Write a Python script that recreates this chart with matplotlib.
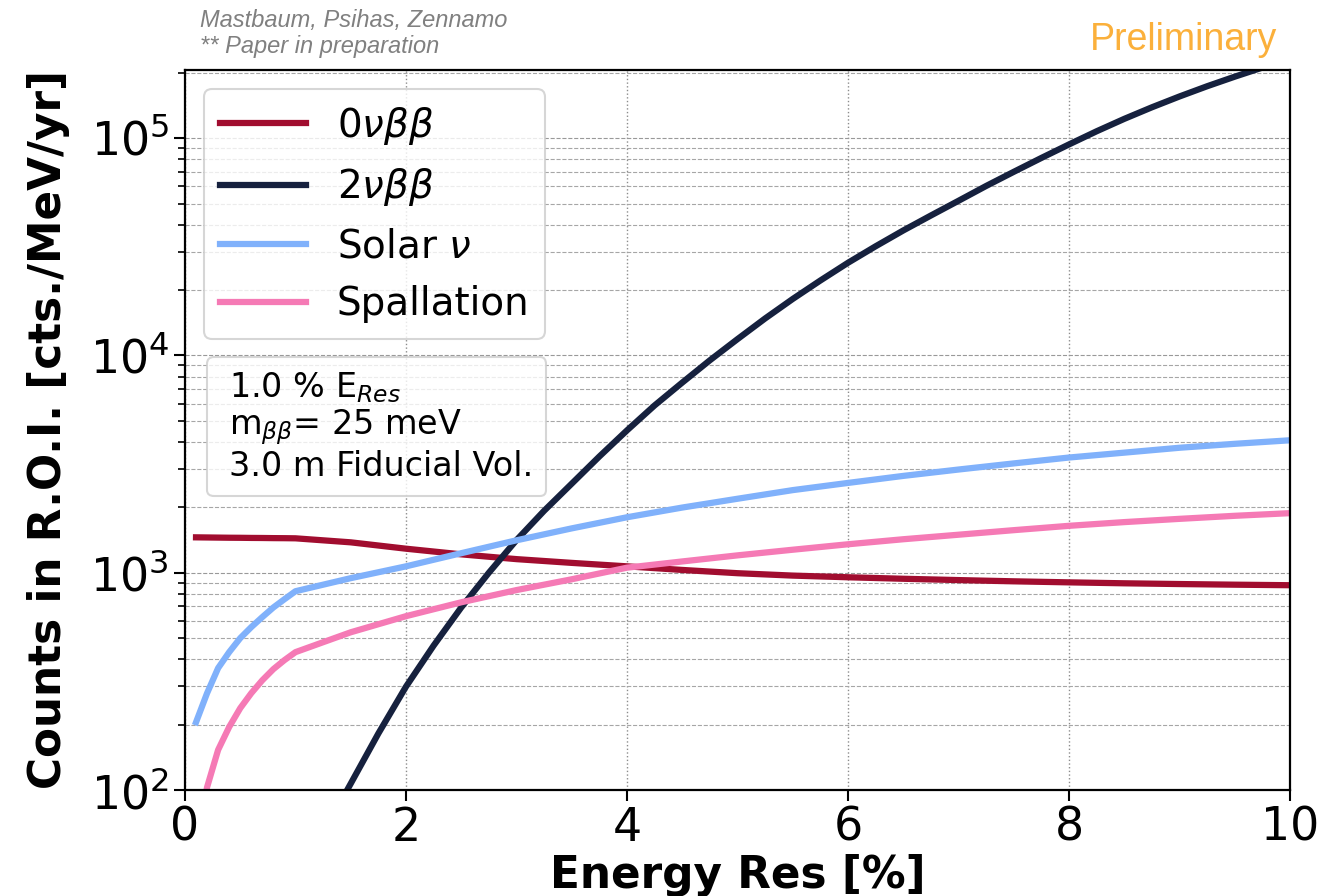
import matplotlib
matplotlib.use("Agg")
from matplotlib import pyplot as plt
from matplotlib.lines import Line2D

# energy resolution [%] sample points
E_RES = [0.1, 0.2, 0.3, 0.4, 0.5, 0.6, 0.7, 0.8, 0.9, 1.0,
         1.5, 2.0, 2.5, 3.0, 3.5, 4.0, 4.5, 5.0, 5.5, 6.0,
         6.5, 7.0, 7.5, 8.0, 8.5, 9.0, 9.5, 10.0]

# counts in ROI [cts/MeV/yr]
ZERO_NU = [1455, 1453, 1451, 1449, 1448, 1446, 1445, 1443, 1442, 1440,
           1380, 1290, 1215, 1155, 1110, 1070, 1030, 995, 970, 953,
           938, 925, 913, 903, 894, 887, 881, 876]
SOLAR = [205, 279, 364, 431, 500, 562, 625, 692, 755, 822,
         944, 1070, 1230, 1410, 1600, 1800, 1995, 2190, 2400, 2590,
         2790, 2985, 3185, 3390, 3570, 3760, 3920, 4070]
SPALL = [55, 103, 153, 195, 238, 279, 320, 360, 396, 431,
         532, 631, 731, 832, 933, 1055, 1127, 1202, 1276, 1352,
         1426, 1496, 1570, 1644, 1710, 1770, 1828, 1880]

E_RES_2NU = [1.0, 1.25, 1.5, 1.75, 2.0, 2.25, 2.5, 2.75, 3.0, 3.25, 3.5,
             3.75, 4.0, 4.25, 4.5, 4.75, 5.0, 5.25, 5.5, 5.75, 6.0,
             6.25, 6.5, 6.75, 7.0, 7.25, 7.5, 7.75, 8.0, 8.25, 8.5,
             8.75, 9.0, 9.25, 9.5, 9.75, 10.0]
TWO_NU = [35, 63, 107, 182, 299, 462, 692, 1000, 1413, 1928, 2570,
          3428, 4520, 5890, 7500, 9500, 11890, 14800, 18200, 22130, 26700,
          31800, 37600, 44060, 51500, 60260, 70000, 81100, 93600, 107600, 122700,
          138700, 155600, 173400, 191900, 211300, 231700]

RED = "#a10d2f"
NAVY = "#16213e"
BLUE = "#80b1fb"
PINK = "#f57ab5"

fig = plt.figure(figsize=(13.25, 8.96), dpi=100)
ax = fig.add_axes([0.1396, 0.1183, 0.834, 0.8036])

lw = 4.5
ax.plot(E_RES, ZERO_NU, color=RED, lw=lw, label=r"0$\nu\beta\beta$")
ax.plot(E_RES_2NU, TWO_NU, color=NAVY, lw=lw, label=r"2$\nu\beta\beta$")
ax.plot(E_RES, SOLAR, color=BLUE, lw=lw, label=r"Solar $\nu$")
ax.plot(E_RES, SPALL, color=PINK, lw=lw, label="Spallation")

ax.set_yscale("log")
ax.set_xlim(0, 10)
ax.set_ylim(100, 2.06e5)
ax.set_xticks([0, 2, 4, 6, 8, 10])

ax.grid(True, which="major", axis="x", ls=":", color="0.55", lw=1.0)
ax.grid(True, which="major", axis="y", ls="--", color="0.6", lw=0.8)
ax.grid(True, which="minor", axis="y", ls="--", color="0.65", lw=0.8)

ax.tick_params(axis="both", which="major", labelsize=33, length=8, width=1.5)
ax.tick_params(axis="y", which="minor", length=5, width=1.2)
for sp in ax.spines.values():
    sp.set_linewidth(1.6)

ax.set_xlabel("Energy Res [%]", fontsize=31.5, fontweight="bold", labelpad=2)
ax.set_ylabel("Counts in R.O.I. [cts./MeV/yr]", fontsize=31.5, fontweight="bold", labelpad=14)

leg = ax.legend(loc="upper left", fontsize=28, handlelength=2.2, framealpha=0.8)
leg.get_frame().set_linewidth(1.5)
ax.add_artist(leg)

# settings box, drawn as a legend with hidden handles
blank = Line2D([], [], alpha=0)
info = ax.legend([blank, blank, blank],
                 ["1.0 % E$_{Res}$", "m$_{\\beta\\beta}$= 25 meV", "3.0 m Fiducial Vol."],
                 loc="upper left", bbox_to_anchor=(0.0199, 0.6014), borderaxespad=0,
                 fontsize=24, handlelength=0, handletextpad=0.25, labelspacing=0.08,
                 borderpad=0.4, framealpha=0.8)
info.get_frame().set_linewidth(1.5)

fig.text(0.151, 0.990, "Mastbaum, Psihas, Zennamo\n** Paper in preparation",
         family="Liberation Sans", style="italic", fontsize=17, color="0.5",
         va="top", ha="left", linespacing=1.15)
fig.text(0.964, 0.955, "Preliminary", family="Liberation Sans",
         fontsize=27, color="#fbb03b", ha="right", va="center")

fig.savefig("out.png", dpi=100)
